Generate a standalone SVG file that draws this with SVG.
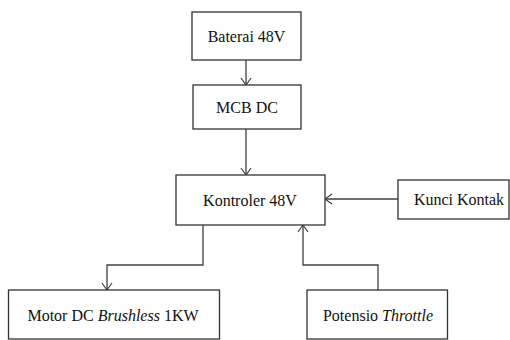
<svg xmlns="http://www.w3.org/2000/svg" width="510" height="340" viewBox="0 0 510 340">
<style>
.box{fill:#fff;stroke:#333;stroke-width:1.3}
text{font-family:"Liberation Serif",Tinos,"Nimbus Roman","Times New Roman",Times,serif;font-size:16px;fill:#111;text-anchor:middle}
.conn{fill:none;stroke:#404040;stroke-width:1.3}
</style>
<defs>
<marker id="arr" markerWidth="12" markerHeight="12" refX="10" refY="6" orient="auto" markerUnits="userSpaceOnUse">
<path d="M3,1 L10,6 L3,11" fill="none" stroke="#404040" stroke-width="1.2"/>
</marker>
</defs>
<rect width="510" height="340" fill="#fff"/>
<g id="connectors">
<path class="conn" d="M246,60 V85" marker-end="url(#arr)"/>
<path class="conn" d="M246,129 V175" marker-end="url(#arr)"/>
<path class="conn" d="M398,199 H325" marker-end="url(#arr)"/>
<path class="conn" d="M203,225 V265 H107 V290" marker-end="url(#arr)"/>
<path class="conn" d="M378,290 V265 H303 V225" marker-end="url(#arr)"/>
</g>
<g id="baterai"><rect class="box" x="192" y="12" width="109" height="48"/><text font-family="Liberation Serif" x="246.5" y="41.5">Baterai 48V</text></g>
<g id="mcb"><rect class="box" x="193" y="85" width="108" height="44"/><text font-family="Liberation Serif" x="247" y="112.5">MCB DC</text></g>
<g id="kontroler"><rect class="box" x="176" y="175" width="149" height="50"/><text font-family="Liberation Serif" x="250" y="205.5">Kontroler 48V</text></g>
<g id="kunci"><rect class="box" x="398" y="180" width="111" height="39"/><text font-family="Liberation Serif" x="459" y="204.5">Kunci Kontak</text></g>
<g id="motor"><rect class="box" x="8.5" y="290" width="211" height="49"/><text font-family="Liberation Serif" x="113" y="321">Motor DC <tspan font-style="italic">Brushless</tspan> 1KW</text></g>
<g id="potensio"><rect class="box" x="307" y="290" width="140.5" height="49"/><text font-family="Liberation Serif" x="378" y="321">Potensio <tspan font-style="italic">Throttle</tspan></text></g>
</svg>
